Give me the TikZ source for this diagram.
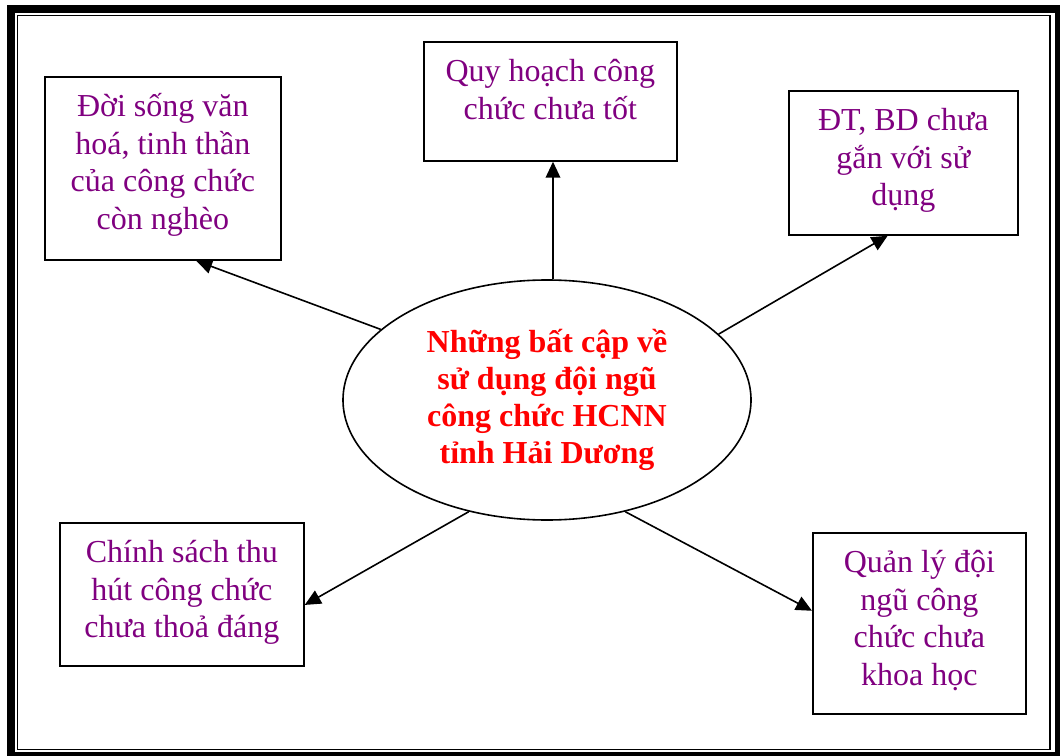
\documentclass[tikz,border=0pt]{standalone}
\usepackage{fontspec}
\setmainfont{Liberation Serif}
\usetikzlibrary{shapes.geometric,arrows.meta,calc}
\definecolor{cause}{HTML}{800080}
\definecolor{issue}{HTML}{FF0000}
% box content: width, height (pt), text; first baseline 30pt below the top edge
\newcommand{\boxlines}[3]{\parbox[c][#2][t]{#1}{\centering\fontsize{24}{28.1}\selectfont\rule{0pt}{30pt}#3}}
\begin{document}
\begin{tikzpicture}[x=0.75pt,y=-0.75pt,
  causebox/.style={draw,line width=1.3pt,inner sep=0pt,anchor=north west,text=cause,fill=white},
  arr/.style={line width=1.2pt,-{Triangle[length=12pt,width=11pt]}}]
\useasboundingbox (0,0) rectangle (1060,756);
\clip (0,0) rectangle (1060,756);
% page frame: thick outer band, thin inner rule
\draw[line width=6pt] (11,9) rectangle (1059,756);
\draw[line width=1.1pt] (17.5,15.5) rectangle (1050,749.5);

% central issue
\node[ellipse,draw,line width=1.2pt,minimum width=306pt,minimum height=180pt,inner sep=0pt,
      align=center,text=issue,font=\bfseries\fontsize{24}{27.8}\selectfont] (ell) at (547,400)
  {Những bất cập về\\sử dụng đội ngũ\\công chức HCNN\\tỉnh Hải Dương};

% surrounding causes
\node[causebox] (b1) at (44,76)   {\boxlines{177pt}{137.25pt}{Đời sống văn\\hoá, tinh thần\\của công chức\\còn nghèo}};
\node[causebox] (b2) at (423,41)  {\boxlines{189.75pt}{89.25pt}{Quy hoạch công\\chức chưa tốt}};
\node[causebox] (b3) at (788,90)  {\boxlines{171.75pt}{108pt}{ĐT, BD chưa\\gắn với sử\\dụng}};
\node[causebox] (b4) at (59,522)  {\boxlines{183pt}{107.25pt}{Chính sách thu\\hút công chức\\chưa thoả đáng}};
\node[causebox] (b5) at (812,532) {\boxlines{159.75pt}{135.75pt}{Quản lý đội\\ngũ công\\chức chưa\\khoa học}};

% connectors
\draw[arr] ([xshift=4.5pt]ell.north) -- ([xshift=4.5pt]ell.north |- b2.south);
\draw[arr] (ell.157.7) -- ($(b1.south west)!0.64!(b1.south east)$);
\draw[arr] (ell.21) -- ($(b3.south west)!0.432!(b3.south east)$);
\draw[arr] (ell.235.7) -- ($(b4.north east)!0.573!(b4.south east)$);
\draw[arr] (ell.305.2) -- ($(b5.north west)!0.431!(b5.south west)$);
\end{tikzpicture}
\end{document}
